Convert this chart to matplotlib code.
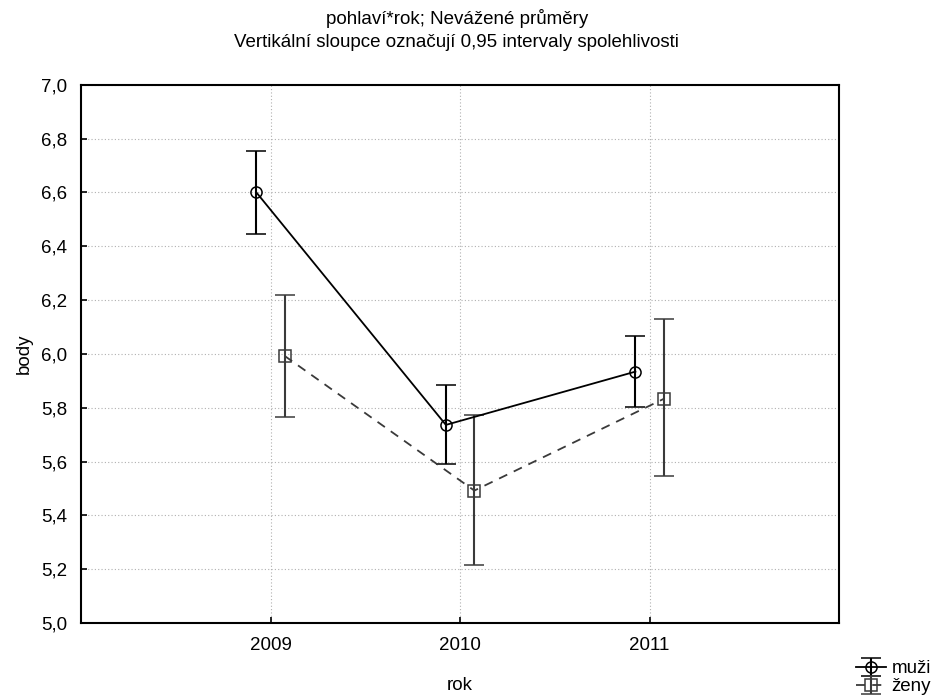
import matplotlib.pyplot as plt
from matplotlib.ticker import FuncFormatter, MultipleLocator

plt.rcParams['font.family'] = ['Liberation Sans', 'DejaVu Sans']

# data
roky = [2009, 2010, 2011]
muzi_mean = [6.600, 5.736, 5.934]
muzi_lo = [6.445, 5.590, 5.802]
muzi_hi = [6.755, 5.885, 6.067]
zeny_mean = [5.992, 5.492, 5.833]
zeny_lo = [5.765, 5.216, 5.546]
zeny_hi = [6.219, 5.771, 6.129]

posun = 0.075  # horizontal offset of the two series
fs = 13.5

fig = plt.figure(figsize=(9.44, 7.0), dpi=100)
ax = fig.add_axes([0.0858, 0.110, 0.8032, 0.769])

x_m = [r - posun for r in roky]
x_z = [r + posun for r in roky]
err_m = [[m - l for m, l in zip(muzi_mean, muzi_lo)], [h - m for m, h in zip(muzi_mean, muzi_hi)]]
err_z = [[m - l for m, l in zip(zeny_mean, zeny_lo)], [h - m for m, h in zip(zeny_mean, zeny_hi)]]

h1 = ax.errorbar(x_m, muzi_mean, yerr=err_m, color='black', ecolor='black', linestyle='-',
                 linewidth=1.3, elinewidth=1.5, capsize=7, capthick=1.5,
                 marker='o', markersize=8, markerfacecolor='none', markeredgecolor='black',
                 markeredgewidth=1.1, label='muži', zorder=3)
h2 = ax.errorbar(x_z, zeny_mean, yerr=err_z, color='#3a3a3a', ecolor='#3a3a3a', linestyle=(0, (5, 4)),
                 linewidth=1.3, elinewidth=1.5, capsize=7, capthick=1.5,
                 marker='s', markersize=8, markerfacecolor='none', markeredgecolor='#3a3a3a',
                 markeredgewidth=1.1, label='ženy', zorder=3)

ax.set_xlim(2008, 2012)
ax.set_ylim(5.0, 7.0)
ax.set_xticks(roky)
ax.yaxis.set_major_locator(MultipleLocator(0.2))
ax.yaxis.set_major_formatter(FuncFormatter(lambda v, p: f'{v:.1f}'.replace('.', ',')))

ax.grid(True, color='#b0b0b0', linestyle=(0, (1, 2)), linewidth=0.8)
ax.tick_params(direction='in', length=4, width=1.2, labelsize=fs, colors='black')
ax.tick_params(axis='y', pad=10)
ax.tick_params(axis='x', pad=10)
for s in ax.spines.values():
    s.set_linewidth(1.5)
    s.set_color('black')

ax.set_xlabel('rok', fontsize=fs, labelpad=17)
ax.set_ylabel('body', fontsize=fs, labelpad=6)

fig.text(0.484, 0.973, 'pohlaví*rok; Nevážené průměry', ha='center', va='center', fontsize=fs)
fig.text(0.484, 0.939, 'Vertikální sloupce označují 0,95 intervaly spolehlivosti', ha='center', va='center', fontsize=fs)

fig.legend(handles=[h1, h2], loc='lower right', bbox_to_anchor=(1.0, -0.012), frameon=False,
           fontsize=fs, handlelength=1.6, handleheight=0.6, handletextpad=0.3,
           labelspacing=0.05, borderpad=0.2)

fig.savefig('out.png', dpi=100)
